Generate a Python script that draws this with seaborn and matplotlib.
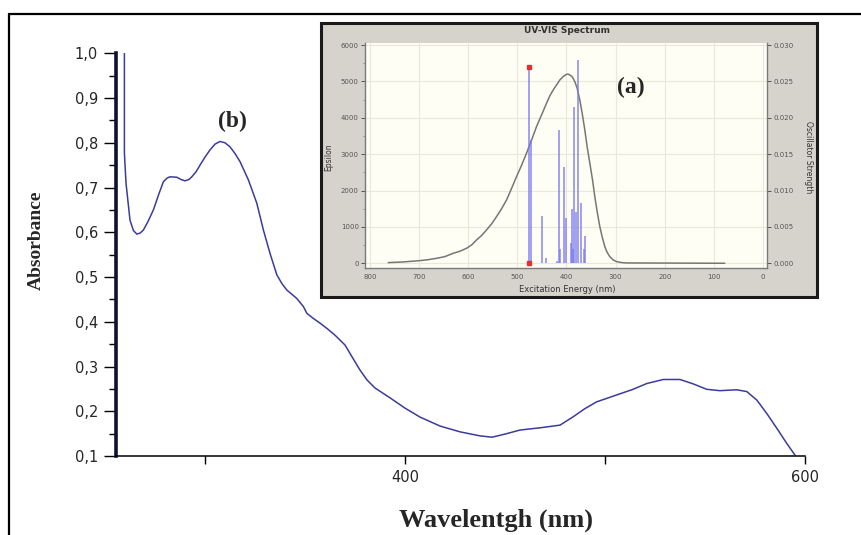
import matplotlib
matplotlib.use("Agg")
import matplotlib.pyplot as plt
from matplotlib.patches import Rectangle
from matplotlib.lines import Line2D
from matplotlib.ticker import MultipleLocator
import seaborn as sns
import pandas as pd

sns.set_style("white")
plt.rcParams['font.family'] = ['DejaVu Sans']

# ---------------- data ----------------
# main experimental spectrum (b)
wl_nm = [259.7, 259.7, 260.5, 262.5, 264.2, 265.9, 267.5, 269.2, 271.5, 274.2, 276.8,
         279.2, 281.0, 282.5, 285.9, 288.0, 290.0, 292.0, 293.4, 295.5, 297.5, 300.0,
         302.5, 305.0, 307.5, 310.0, 312.5, 315.0, 317.5, 321.7, 325.9, 329.2, 332.5,
         335.9, 338.5, 340.9, 345.9, 349.2, 350.9, 354.0, 357.5, 361.0, 365.0, 370.0,
         374.0, 377.5, 381.0, 385.0, 392.5, 400.0, 407.5, 417.5, 427.5, 437.5, 443.5,
         450.0, 457.5, 467.5, 477.5, 484.2, 490.0, 495.8, 507.5, 514.0, 520.9, 529.2,
         537.5, 544.2, 550.9, 557.5, 565.9, 570.9, 575.9, 580.9, 585.9, 590.9, 595.0]
absorbance = [1.000, 0.777, 0.710, 0.627, 0.604, 0.596, 0.598, 0.605, 0.624, 0.650, 0.684,
              0.713, 0.721, 0.724, 0.723, 0.718, 0.715, 0.718, 0.724, 0.735, 0.750, 0.768,
              0.784, 0.797, 0.803, 0.800, 0.791, 0.776, 0.758, 0.717, 0.665, 0.605, 0.553,
              0.505, 0.485, 0.471, 0.452, 0.434, 0.419, 0.408, 0.397, 0.385, 0.370, 0.348,
              0.318, 0.292, 0.270, 0.252, 0.230, 0.207, 0.187, 0.167, 0.154, 0.145, 0.142,
              0.149, 0.158, 0.163, 0.169, 0.188, 0.206, 0.221, 0.239, 0.249, 0.262, 0.271,
              0.271, 0.261, 0.249, 0.246, 0.248, 0.244, 0.225, 0.195, 0.162, 0.128, 0.102]
y_ticks = [0.1, 0.2, 0.3, 0.4, 0.5, 0.6, 0.7, 0.8, 0.9, 1.0]
y_tick_labels = ["0,1", "0,2", "0,3", "0,4", "0,5", "0,6", "0,7", "0,8", "0,9", "1,0"]
x_ticks = [300, 400, 500, 600]
x_tick_labels = ["", "400", "", "600"]

# inset: simulated spectrum (a)
sim_nm = [762.7, 732.0, 698.0, 681.0, 664.0, 647.5, 630.5, 617.0, 603.4, 593.0, 583.0,
          573.0, 562.7, 552.5, 542.4, 532.0, 522.0, 512.0, 501.7, 491.5, 481.4, 471.0,
          461.0, 450.8, 440.7, 434.0, 427.1, 420.3, 413.6, 406.8, 400.0, 397.0, 393.2,
          388.5, 383.0, 378.3, 372.9, 367.5, 362.7, 358.0, 352.5, 347.0, 342.4, 337.6,
          332.2, 327.5, 322.0, 317.3, 311.9, 305.0, 298.3, 288.0, 278.0, 78.0]
sim_eps = [18, 37, 73, 100, 137, 183, 275, 330, 412, 504, 641,
           760, 916, 1080, 1282, 1500, 1740, 2050, 2381, 2690, 3023, 3390,
           3756, 4075, 4397, 4600, 4763, 4900, 5038, 5130, 5194, 5200, 5175,
           5130, 4992, 4810, 4488, 4075, 3664, 3206, 2748, 2290, 1832, 1420,
           1008, 733, 458, 302, 183, 92, 46, 20, 9, 0]
trans_nm = [476.0, 473.0, 450.5, 442.0, 419.0, 414.6, 412.6, 406.0, 402.0, 391.5,
            389.0, 387.0, 384.7, 380.7, 377.3, 370.5, 364.0, 362.0]
osc_strength = [0.0270, 0.0170, 0.0065, 0.00075, 0.00025, 0.01825, 0.0020, 0.01325,
                0.00625, 0.00275, 0.0075, 0.0020, 0.0215, 0.0070, 0.0280, 0.00825,
                0.0020, 0.00375]
selected_nm = [476.0, 476.0]
selected_f = [0.0270, 0.0]

W, H = 861, 535
fig = plt.figure(figsize=(W / 100, H / 100), dpi=100)

# outer frame (left and top only)
fig.add_artist(Line2D([9 / W, 9 / W], [0, 1 - 14 / H], transform=fig.transFigure,
                      color='black', lw=1.6))
fig.add_artist(Line2D([9 / W, 1], [1 - 14 / H, 1 - 14 / H], transform=fig.transFigure,
                      color='black', lw=1.6))

# ---------------- main axes ----------------
ax = fig.add_axes([116 / W, 1 - 456 / H, (805 - 116) / W, (456 - 53.3) / H])
df = pd.DataFrame({"wl": wl_nm, "A": absorbance})
sns.lineplot(data=df, x="wl", y="A", ax=ax, sort=False, estimator=None,
             color='#3b3b9c', lw=1.1)
ax.set_xlim(255.5, 600)
ax.set_ylim(0.1, 1.0)
for s in ['top', 'right']:
    ax.spines[s].set_visible(False)
ax.spines['left'].set_linewidth(2.6)
ax.spines['left'].set_color('#101030')
ax.spines['bottom'].set_linewidth(1.1)
ax.spines['bottom'].set_color('black')
ax.set_yticks(y_ticks)
ax.set_yticklabels(y_tick_labels)
ax.yaxis.set_minor_locator(MultipleLocator(0.05))
ax.set_xticks(x_ticks)
ax.set_xticklabels(x_tick_labels)
ax.tick_params(axis='y', which='major', direction='out', length=9, width=1.0,
               labelsize=10.5, pad=4, color='black', left=True)
ax.tick_params(axis='y', which='minor', direction='out', length=5, width=1.0,
               color='black', left=True)
ax.tick_params(axis='x', which='major', direction='out', length=6, width=1.0,
               labelsize=10.5, pad=4, color='black', bottom=True)
ax.set_xlabel("")
ax.set_ylabel("")
fig.text(496 / W, 1 - 520 / H, "Wavelentgh (nm)", ha='center', va='center',
         family='Liberation Serif', fontweight='bold', fontsize=19)
fig.text(36 / W, 1 - 240 / H, "Absorbance", ha='center', va='center', rotation=90,
         family='Liberation Serif', fontweight='bold', fontsize=14)
fig.text(232 / W, 1 - 121 / H, "(b)", ha='center', va='center',
         family='Liberation Serif', fontweight='bold', fontsize=17)

# ---------------- inset panel ----------------
fig.add_artist(Rectangle((321 / W, 1 - 297 / H), (817 - 321) / W, (297 - 23) / H,
                         transform=fig.transFigure, facecolor='#d6d3cc',
                         edgecolor='#1a1a1a', lw=2.2, zorder=1))
fig.text(567 / W, 1 - 30.5 / H, "UV-VIS Spectrum", ha='center', va='center',
         fontsize=6.5, fontweight='bold', color='#333333', zorder=3)

axi = fig.add_axes([365 / W, 1 - 268 / H, (767 - 365) / W, (268 - 43) / H], zorder=2)
axi.set_facecolor('#fefef4')
sdf = pd.DataFrame({"nm": sim_nm, "eps": sim_eps})
sns.lineplot(data=sdf, x="nm", y="eps", ax=axi, sort=False, estimator=None,
             color='#767676', lw=1.1, zorder=4)
axi.set_xlim(810, -8)
axi.set_ylim(-130, 6055)
axi.set_xticks([800, 700, 600, 500, 400, 300, 200, 100, 0])
axi.xaxis.set_minor_locator(MultipleLocator(10))
axi.set_yticks([0, 1000, 2000, 3000, 4000, 5000, 6000])
axi.yaxis.set_minor_locator(MultipleLocator(500))
axi.grid(True, which='major', color='#e9e9da', lw=0.8)
axi.set_axisbelow(True)
for s in ['top', 'right']:
    axi.spines[s].set_visible(False)
for s in ['left', 'bottom']:
    axi.spines[s].set_color('#7a7a7a')
    axi.spines[s].set_linewidth(1.0)
axi.tick_params(axis='both', which='major', labelsize=5, colors='#555555',
                length=3, width=0.7, pad=1.5)
axi.tick_params(axis='both', which='minor', colors='#7a7a7a', length=1.8, width=0.5)
axi.set_xlabel("")
axi.set_ylabel("")

ax2 = axi.twinx()
ax2.set_ylim(-130 * 5e-6, 6055 * 5e-6)
ax2.vlines(trans_nm, 0, osc_strength, color='#7878f0', alpha=0.7, lw=1.4, zorder=3)
ax2.plot(selected_nm, selected_f, ls='none', marker='s', ms=2.2, color='#e03030', zorder=5)
ax2.set_yticks([0.0, 0.005, 0.010, 0.015, 0.020, 0.025, 0.030])
ax2.set_yticklabels(["0.000", "0.005", "0.010", "0.015", "0.020", "0.025", "0.030"])
for s in ['top', 'left', 'bottom']:
    ax2.spines[s].set_visible(False)
ax2.spines['right'].set_color('#7a7a7a')
ax2.spines['right'].set_linewidth(1.0)
ax2.tick_params(axis='y', labelsize=5, colors='#555555', length=3, width=0.7, pad=1.5)

fig.text(329 / W, 1 - 157 / H, "Epsilon", rotation=90, ha='center', va='center',
         fontsize=5.5, color='#333333', zorder=3)
fig.text(808 / W, 1 - 157 / H, "Oscillator Strength", rotation=270, ha='center',
         va='center', fontsize=5.5, color='#333333', zorder=3)
fig.text(567 / W, 1 - 290 / H, "Excitation Energy (nm)", ha='center', va='center',
         fontsize=6, color='#333333', zorder=3)
fig.text(631 / W, 1 - 87 / H, "(a)", ha='center', va='center', zorder=6,
         family='Liberation Serif', fontweight='bold', fontsize=17)

fig.savefig("out.png", dpi=100)
